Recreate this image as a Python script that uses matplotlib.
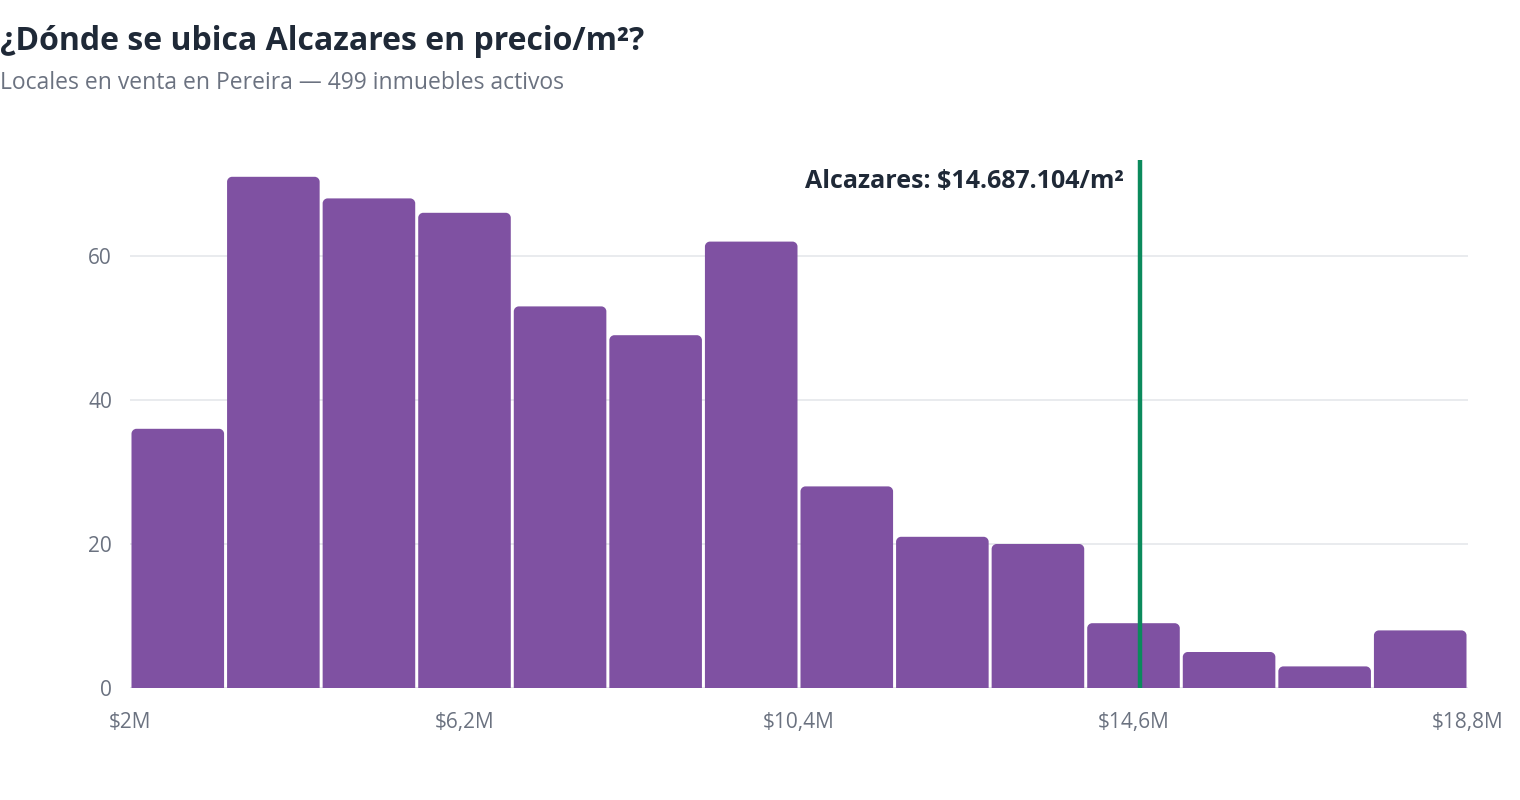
import matplotlib.pyplot as plt
from matplotlib.path import Path
from matplotlib.patches import PathPatch

# datos del histograma (millones de pesos por m2)
bin_start = 2.0
bin_width = 1.2
counts = [36, 71, 68, 66, 53, 49, 62, 28, 21, 20, 9, 5, 3, 8]
xticks = [2, 6.2, 10.4, 14.6, 18.8]
xtick_labels = [r'\$2M', r'\$6,2M', r'\$10,4M', r'\$14,6M', r'\$18,8M']
yticks = [0, 20, 40, 60]
precio_alcazares = 14687104
total = 499

plt.rcParams['font.family'] = ['Open Sans', 'DejaVu Sans']

W, H = 15.2, 8.0
fig = plt.figure(figsize=(W, H), dpi=100)
left, right, bottom = 130 / 1520, 1468 / 1520, 1 - 688 / 800
ymax = 73.3
top = 1 - (688 - ymax * 7.2) / 800
ax = fig.add_axes([left, bottom, right - left, top - bottom])

xmin = bin_start
xmax = bin_start + bin_width * len(counts)
ax.set_xlim(xmin, xmax)
ax.set_ylim(0, ymax)

# radio de esquinas y separacion en pixeles -> unidades de datos
px_x = (right - left) * W * 100 / (xmax - xmin)
px_y = (top - bottom) * H * 100 / ymax
rx, ry = 5 / px_x, 5 / px_y
gap = 3 / px_x


def rounded_bar(x0, w, h):
    k = 0.5523
    verts = [(x0, 0), (x0, h - ry), (x0, h - ry + k * ry), (x0 + rx - k * rx, h),
             (x0 + rx, h), (x0 + w - rx, h), (x0 + w - rx + k * rx, h),
             (x0 + w, h - ry + k * ry), (x0 + w, h - ry), (x0 + w, 0), (x0, 0)]
    codes = [Path.MOVETO, Path.LINETO, Path.CURVE4, Path.CURVE4, Path.CURVE4,
             Path.LINETO, Path.CURVE4, Path.CURVE4, Path.CURVE4, Path.LINETO,
             Path.CLOSEPOLY]
    return PathPatch(Path(verts, codes), facecolor='#7f51a2', edgecolor='none', zorder=3)


for i, c in enumerate(counts):
    x0 = bin_start + i * bin_width + gap / 2
    ax.add_patch(rounded_bar(x0, bin_width - gap, c))

# grilla y ejes
for s in ax.spines.values():
    s.set_visible(False)
ax.set_yticks(yticks)
ax.yaxis.grid(True, color='#e5e7eb', linewidth=1.2, zorder=0)
ax.set_axisbelow(True)
ax.axhline(0, color='#e5e7eb', linewidth=2.2, zorder=2)
ax.set_xticks(xticks)
ax.set_xticklabels(xtick_labels)
ax.tick_params(axis='both', length=0, labelsize=15, labelcolor='#6b7280')
ax.tick_params(axis='y', pad=13)
ax.tick_params(axis='x', pad=17)

# linea de Alcazares
xa = precio_alcazares / 1e6
ax.axvline(xa, ymin=0, ymax=1, color='#0b8a5c', linewidth=3.2, zorder=5)
etiqueta = r'Alcazares: \$' + f'{precio_alcazares:,}'.replace(',', '.') + '/m²'
ax.annotate(etiqueta, xy=(xa, 1), xycoords=('data', 'axes fraction'),
            xytext=(-12, -20), textcoords='offset points', ha='right', va='baseline',
            fontsize=18, fontweight='bold', color='#1f2937')

fig.text(0.0, 1 - 50 / 800, '¿Dónde se ubica Alcazares en precio/m²?', fontsize=23,
         fontweight='bold', color='#1f2937', ha='left', va='baseline')
fig.text(0.0, 1 - 89 / 800, f'Locales en venta en Pereira — {total} inmuebles activos',
         fontsize=16.5, color='#6b7280', ha='left', va='baseline')

fig.savefig('out.png', dpi=100, facecolor='white')
